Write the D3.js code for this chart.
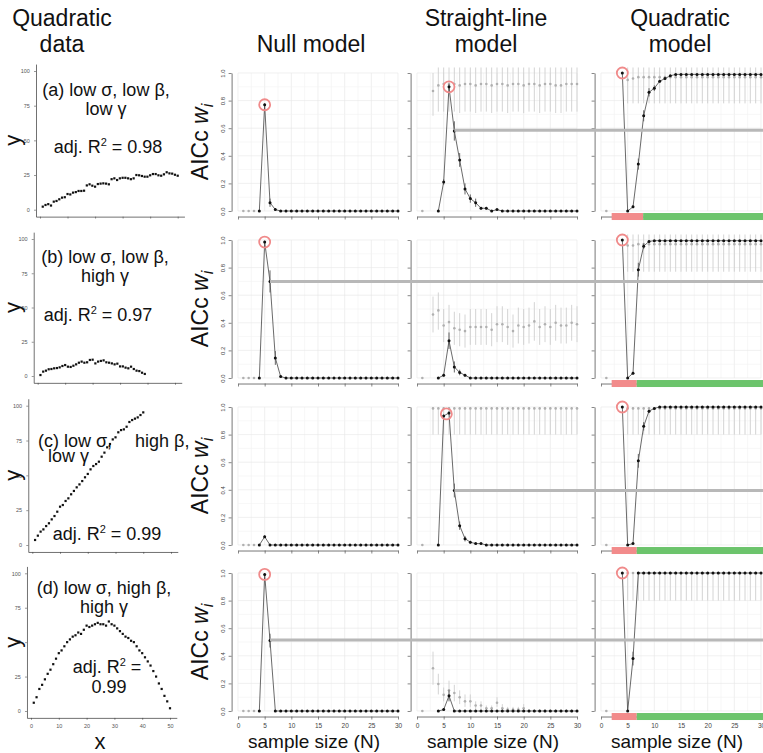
<!DOCTYPE html>
<html><head><meta charset="utf-8">
<script src="https://cdn.jsdelivr.net/npm/d3@7"></script>
<style>body{margin:0;background:#fff} svg text{font-family:"Liberation Sans",Arial,sans-serif}</style>
</head><body><svg id="c" width="763" height="753"></svg>
<script>
const _ = null;
// ---------- data column (quadratic data) ----------
const dataA = [2.2,3.4,4,3,5.8,6.3,7.5,8.7,9,11.3,11,12.3,12.7,13.5,13.5,13.7,17.5,18.3,17.3,16.6,18.5,18.8,19,18.8,18.3,22,22.6,21.4,22.6,23,23,22.6,22,22.6,25,24.8,24.3,23.8,23.8,24.8,25.7,25.7,24.8,24.5,25.5,27,26.2,26,25.2,24.5];
const dataB = [0.7,3.2,3.9,4.9,5.1,5.6,5.8,6.3,7.3,8,6.8,6.6,7.5,8.5,9.7,10.5,9.7,10,11.7,11.9,9.2,10.5,11,11.4,10,9.7,9.2,8.5,9,7,7,6.1,5.6,6.8,5.1,3.9,3.6,2.4,1.5];
const dataC = [3.6,6.7,9.6,11.2,13.6,15.6,18.4,20.8,23.9,27.5,28.7,31.6,33.5,36.4,38.8,41.4,43.5,45.9,48.6,51,54.3,56.7,58.1,59.8,63.4,66.3,70.1,72.5,75.8,77.3,80.9,82.5,83,84.9,88.3,89.7,90.7,91.6,93.3,95.2];
const dataD = [6,10,16,19,23,27,30,34,38,42,44,47,50,52,54,55,57,56,59,62,61,62,63,64,63,63,62,65,63,62,60,58,56,54,53,51,50,47,44,42,39,36,33,29,25,20,16,11,7,2];
const dataTicksX = [0,10,20,30,40,50];
const dataTicksY = [0,25,50,75,100];
// each label piece: [text, row line]
const panelTitles = [
  [["(a) low σ, low β,",0],["low γ",1]],
  [["(b) low σ, low β,",0],["high γ",1]],
  [["(c) low σ,",0],["high β,",0],["low γ",1]],
  [["(d) low σ, high β,",0],["high γ",1]]
];
const r2Labels = [["adj. R","2"," = 0.98"],["adj. R","2"," = 0.97"],["adj. R","2"," = 0.99"],["adj. R","2"," =","0.99"]];
const columnTitles = [["Quadratic","data"],["Null model"],["Straight-line","model"],["Quadratic","model"]];

// ---------- model panels: sample size N = 1..30 ----------
const sampleN = d3.range(1,31);
const nTicks = [0,5,10,15,20,25,30];
const wTicks = [0,0.2,0.4,0.6,0.8,1.0];
// row a
const nullA_black = [_,_,_,0,0.77,0.06,0.01,0,0,0,0,0,0,0,0,0,0,0,0,0,0,0,0,0,0,0,0,0,0,0];
const nullA_bErr  = [_,_,_,0,0.01,0.03,0.01,0,0,0,0,0,0,0,0,0,0,0,0,0,0,0,0,0,0,0,0,0,0,0];
const nullA_gray  = [0,0,0,_,_,_,_,_,_,_,_,_,_,_,_,_,_,_,_,_,_,_,_,_,_,_,_,_,_,_];
const lineA_black = [_,_,_,0,0.21,0.90,0.58,0.37,0.16,0.09,0.06,0.02,0.02,0,0.01,0,0,0,0,0,0,0,0,0,0,0,0,0,0,0];
const lineA_bErr  = [_,_,_,0,0.02,0.02,0.07,0.05,0.04,0.03,0.03,0.01,0.01,0,0,0,0,0,0,0,0,0,0,0,0,0,0,0,0,0];
const lineA_gray  = [0,_,0.87,0.91,0.92,0.92,0.92,0.91,0.92,0.92,0.91,0.92,0.92,0.91,0.92,0.92,0.91,0.92,0.92,0.91,0.92,0.92,0.91,0.92,0.92,0.91,0.91,0.92,0.92,0.92];
const lineA_gLo   = [_,_,0.69,0.72,0.72,0.72,0.72,0.71,0.72,0.72,0.71,0.72,0.72,0.71,0.72,0.72,0.71,0.72,0.72,0.71,0.72,0.72,0.71,0.72,0.72,0.71,0.71,0.72,0.72,0.72];
const lineA_gHi   = [_,_,1.0,1.04,1.04,1.04,1.04,1.04,1.04,1.04,1.04,1.04,1.04,1.04,1.04,1.04,1.04,1.04,1.04,1.04,1.04,1.04,1.04,1.04,1.04,1.04,1.04,1.04,1.04,1.04];
const quadA_black = [_,_,_,1.0,0,0.03,0.34,0.69,0.86,0.89,0.94,0.96,0.98,0.99,0.99,0.99,0.99,0.99,0.99,0.99,0.99,0.99,0.99,0.99,0.99,0.99,0.99,0.99,0.99,0.99];
const quadA_bErr  = [_,_,_,0,0,0.01,0.04,0.04,0.03,0.02,0.01,0.01,0,0,0,0,0,0,0,0,0,0,0,0,0,0,0,0,0,0];
const quadA_gray  = [0,_,_,_,0.95,0.96,0.97,0.97,0.97,0.97,0.97,0.97,0.97,0.97,0.97,0.97,0.97,0.97,0.97,0.97,0.97,0.97,0.97,0.97,0.97,0.97,0.97,0.97,0.97,0.97];
const quadA_gLo   = [_,_,_,_,0.78,0.78,0.78,0.78,0.78,0.78,0.78,0.78,0.78,0.78,0.78,0.78,0.78,0.78,0.78,0.78,0.78,0.78,0.78,0.78,0.78,0.78,0.78,0.78,0.78,0.78];
const quadA_gHi   = [_,_,_,_,1.04,1.04,1.04,1.04,1.04,1.04,1.04,1.04,1.04,1.04,1.04,1.04,1.04,1.04,1.04,1.04,1.04,1.04,1.04,1.04,1.04,1.04,1.04,1.04,1.04,1.04];
// row b
const nullB_black = [_,_,_,0,0.985,0.70,0.145,0.01,0,0,0,0,0,0,0,0,0,0,0,0,0,0,0,0,0,0,0,0,0,0];
const nullB_bErr  = [_,_,_,0,0.01,0.08,0.05,0.01,0,0,0,0,0,0,0,0,0,0,0,0,0,0,0,0,0,0,0,0,0,0];
const nullB_gray  = [0,0,0,_,_,_,_,_,_,_,_,_,_,_,_,_,_,_,_,_,_,_,_,_,_,_,_,_,_,_];
const lineB_black = [_,_,_,0,0.02,0.27,0.08,0.04,0.02,0,0,0,0,0,0,0,0,0,0,0,0,0,0,0,0,0,0,0,0,0];
const lineB_bErr  = [_,_,_,0,0.01,0.06,0.04,0.02,0.01,0,0,0,0,0,0,0,0,0,0,0,0,0,0,0,0,0,0,0,0,0];
const lineB_gray  = [0,_,0.46,0.49,0.38,0.405,0.36,0.35,0.34,0.37,0.37,0.37,0.37,0.35,0.39,0.39,0.37,0.34,0.38,0.37,0.38,0.41,0.37,0.39,0.37,0.40,0.38,0.38,0.40,0.39];
const lineB_gLo   = [_,_,0.33,0.35,0.26,0.28,0.24,0.23,0.22,0.24,0.24,0.24,0.24,0.23,0.26,0.26,0.24,0.22,0.25,0.24,0.25,0.27,0.24,0.26,0.24,0.27,0.25,0.25,0.27,0.26];
const lineB_gHi   = [_,_,0.59,0.62,0.50,0.53,0.48,0.47,0.46,0.50,0.50,0.50,0.50,0.47,0.52,0.52,0.50,0.46,0.51,0.50,0.51,0.55,0.50,0.52,0.50,0.53,0.51,0.51,0.53,0.52];
const quadB_black = [_,_,_,1.0,0,0.035,0.785,0.955,0.99,0.995,0.995,0.995,0.995,0.995,0.995,0.995,0.995,0.995,0.995,0.995,0.995,0.995,0.995,0.995,0.995,0.995,0.995,0.995,0.995,0.995];
const quadB_bErr  = [_,_,_,0,0,0.01,0.05,0.02,0.01,0,0,0,0,0,0,0,0,0,0,0,0,0,0,0,0,0,0,0,0,0];
const quadB_gray  = [0,_,_,_,0.96,0.96,0.97,0.97,0.97,0.97,0.97,0.97,0.97,0.97,0.97,0.97,0.97,0.97,0.97,0.97,0.97,0.97,0.97,0.97,0.97,0.97,0.97,0.97,0.97,0.97];
const quadB_gLo   = [_,_,_,_,0.77,0.77,0.77,0.77,0.77,0.77,0.77,0.77,0.77,0.77,0.77,0.77,0.77,0.77,0.77,0.77,0.77,0.77,0.77,0.77,0.77,0.77,0.77,0.77,0.77,0.77];
const quadB_gHi   = [_,_,_,_,1.04,1.04,1.04,1.04,1.04,1.04,1.04,1.04,1.04,1.04,1.04,1.04,1.04,1.04,1.04,1.04,1.04,1.04,1.04,1.04,1.04,1.04,1.04,1.04,1.04,1.04];
// row c
const nullC_black = [_,_,_,0,0.06,0,0,0,0,0,0,0,0,0,0,0,0,0,0,0,0,0,0,0,0,0,0,0,0,0];
const nullC_bErr  = [_,_,_,0,0.01,0,0,0,0,0,0,0,0,0,0,0,0,0,0,0,0,0,0,0,0,0,0,0,0,0];
const nullC_gray  = [0,0,0,_,_,_,_,_,_,_,_,_,_,_,_,_,_,_,_,_,_,_,_,_,_,_,_,_,_,_];
const lineC_black = [_,_,_,0,0.935,0.957,0.395,0.14,0.046,0.02,0.01,0.01,0,0,0,0,0,0,0,0,0,0,0,0,0,0,0,0,0,0];
const lineC_bErr  = [_,_,_,0,0.01,0.01,0.05,0.03,0.02,0.01,0,0,0,0,0,0,0,0,0,0,0,0,0,0,0,0,0,0,0,0];
const lineC_gray  = [0,_,0.99,0.99,0.99,0.99,0.99,0.99,0.99,0.99,0.99,0.99,0.99,0.99,0.99,0.99,0.99,0.99,0.99,0.99,0.99,0.99,0.99,0.99,0.99,0.99,0.99,0.99,0.99,0.99];
const lineC_gLo   = [_,_,0.8,0.8,0.8,0.8,0.8,0.8,0.8,0.8,0.8,0.8,0.8,0.8,0.8,0.8,0.8,0.8,0.8,0.8,0.8,0.8,0.8,0.8,0.8,0.8,0.8,0.8,0.8,0.8];
const lineC_gHi   = [_,_,1.0,1.0,1.0,1.0,1.0,1.0,1.0,1.0,1.0,1.0,1.0,1.0,1.0,1.0,1.0,1.0,1.0,1.0,1.0,1.0,1.0,1.0,1.0,1.0,1.0,1.0,1.0,1.0];
const quadC_black = [_,_,_,1.0,0,0.01,0.61,0.86,0.97,0.99,1,1,1,1,1,1,1,1,1,1,1,1,1,1,1,1,1,1,1,1];
const quadC_bErr  = [_,_,_,0,0,0,0.05,0.03,0.01,0,0,0,0,0,0,0,0,0,0,0,0,0,0,0,0,0,0,0,0,0];
const quadC_gray  = [0,_,_,_,0.99,0.99,0.99,0.99,0.99,0.99,0.99,0.99,0.99,0.99,0.99,0.99,0.99,0.99,0.99,0.99,0.99,0.99,0.99,0.99,0.99,0.99,0.99,0.99,0.99,0.99];
const quadC_gLo   = [_,_,_,_,0.8,0.8,0.8,0.8,0.8,0.8,0.8,0.8,0.8,0.8,0.8,0.8,0.8,0.8,0.8,0.8,0.8,0.8,0.8,0.8,0.8,0.8,0.8,0.8,0.8,0.8];
const quadC_gHi   = [_,_,_,_,1,1,1,1,1,1,1,1,1,1,1,1,1,1,1,1,1,1,1,1,1,1,1,1,1,1];
// row d
const nullD_black = [_,_,_,0,0.99,0.51,0,0,0,0,0,0,0,0,0,0,0,0,0,0,0,0,0,0,0,0,0,0,0,0];
const nullD_bErr  = [_,_,_,0,0.01,0.05,0,0,0,0,0,0,0,0,0,0,0,0,0,0,0,0,0,0,0,0,0,0,0,0];
const nullD_gray  = [0,0,0,_,_,_,_,_,_,_,_,_,_,_,_,_,_,_,_,_,_,_,_,_,_,_,_,_,_,_];
const lineD_black = [_,_,_,0,0.01,0.11,0,0,0,0,0,0,0,0,0,0,0,0,0,0,0,0,0,0,0,0,0,0,0,0];
const lineD_bErr  = [_,_,_,0,0.01,0.04,0,0,0,0,0,0,0,0,0,0,0,0,0,0,0,0,0,0,0,0,0,0,0,0];
const lineD_gray  = [0,_,0.31,0.196,0.117,0.15,0.13,0.10,0.07,0.07,0.04,0.04,0.02,0.02,0.06,0.02,0.01,0.01,0.01,0.02,0,0,0,0,0,0,0,0,0,0];
const lineD_gLo   = [_,_,0.19,0.12,0.07,0.08,0.07,0.05,0.03,0.03,0.01,0.01,0,0,0.03,0,0,0,0,0,0,0,0,0,0,0,0,0,0,0];
const lineD_gHi   = [_,_,0.43,0.27,0.17,0.22,0.19,0.15,0.12,0.12,0.07,0.07,0.04,0.04,0.10,0.05,0.03,0.03,0.03,0.05,0.01,0.01,0.01,0.01,0.01,0.01,0.01,0.01,0.01,0.01];
const quadD_black = [_,_,_,1.0,0,0.38,1,1,1,1,1,1,1,1,1,1,1,1,1,1,1,1,1,1,1,1,1,1,1,1];
const quadD_bErr  = [_,_,_,0,0,0.05,0,0,0,0,0,0,0,0,0,0,0,0,0,0,0,0,0,0,0,0,0,0,0,0];
const quadD_gray  = [0,_,_,_,1,1,1,1,1,1,1,1,1,1,1,1,1,1,1,1,1,1,1,1,1,1,1,1,1,1];
const quadD_gLo   = [_,_,_,_,0.8,0.8,0.8,0.8,0.8,0.8,0.8,0.8,0.8,0.8,0.8,0.8,0.8,0.8,0.8,0.8,0.8,0.8,0.8,0.8,0.8,0.8,0.8,0.8,0.8,0.8];
const quadD_gHi   = [_,_,_,_,1,1,1,1,1,1,1,1,1,1,1,1,1,1,1,1,1,1,1,1,1,1,1,1,1,1];

// highlighted best points (model index 0=null,1=line,2=quad)
const circleRow   = [0,0,0,1,1,2,2,3,3];
const circleModel = [0,1,2,0,2,1,2,0,2];
const circleN     = [5,6,4,5,4,5.5,4,5,4];
const circleW     = [0.77,0.90,1.0,0.985,1.0,0.95,1.0,0.99,1.0];
// horizontal reference lines: start (row, model, N, w) extend to right edge
const refRow   = [0,1,2,3];
const refModel = [1,0,1,0];
const refN     = [7,6,7,6];
const refW     = [0.585,0.70,0.395,0.515];
// red / green N-range bars in quadratic model panels
const redStart  = [2,2,2,2];
const redEnd    = [7.9,6.7,6.7,6.7];
const greenEnd  = [30.5,30.5,30.5,30.5];

// ---------- build ----------
const svg = d3.select("#c");
const models = [
  [ [nullA_black,nullA_bErr,nullA_gray,null,null], [lineA_black,lineA_bErr,lineA_gray,lineA_gLo,lineA_gHi], [quadA_black,quadA_bErr,quadA_gray,quadA_gLo,quadA_gHi] ],
  [ [nullB_black,nullB_bErr,nullB_gray,null,null], [lineB_black,lineB_bErr,lineB_gray,lineB_gLo,lineB_gHi], [quadB_black,quadB_bErr,quadB_gray,quadB_gLo,quadB_gHi] ],
  [ [nullC_black,nullC_bErr,nullC_gray,null,null], [lineC_black,lineC_bErr,lineC_gray,lineC_gLo,lineC_gHi], [quadC_black,quadC_bErr,quadC_gray,quadC_gLo,quadC_gHi] ],
  [ [nullD_black,nullD_bErr,nullD_gray,null,null], [lineD_black,lineD_bErr,lineD_gray,lineD_gLo,lineD_gHi], [quadD_black,quadD_bErr,quadD_gray,quadD_gLo,quadD_gHi] ]
];
const datasets = [dataA,dataB,dataC,dataD];

// layout
const rowTop = [73, 240, 407, 573];
const plotH = 138;
const colX0 = [238, 417, 601];
const plotW = 160;
const dataLayout = [ {x0:40,x50:177.7,y0:209.7,y100:71}, {x0:37.7,x50:175,y0:376,y100:239},
                     {x0:32.3,x50:171,y0:545,y100:405.7}, {x0:31,x50:170,y0:711,y100:573.3} ];

// column titles
const titleX = [62, 311, 486, 680];
columnTitles.forEach((lines,i)=>{
  const t = svg.append("text").attr("x",titleX[i]).attr("text-anchor","middle").attr("font-size",23).attr("fill","#111");
  const startY = lines.length===2 ? 26 : 52;
  lines.forEach((s,j)=> t.append("tspan").attr("x",titleX[i]).attr("y", startY + j*26).text(s));
});

function xScaleFor(r,m){ return d3.scaleLinear().domain([0,30]).range([colX0[m], colX0[m]+plotW]); }
function yScaleFor(r){ return d3.scaleLinear().domain([0,1]).range([rowTop[r]+plotH, rowTop[r]]); }

// annotation placement (layout only)
const titleLineY = [[96,115],[263,282],[447,462],[594,613]];
const titlePieceX = [[106,106],[105,105],[38,135,48],[104,104]];
const titlePieceAnchor = [["middle","middle"],["middle","middle"],["start","start","start"],["middle","middle"]];
const r2Y = [[153],[321],[540],[673,693]];
const r2X = [108,98,107,107];

for(let r=0;r<4;r++){
  // ----- data panel -----
  const L = dataLayout[r];
  const dx = d3.scaleLinear().domain([0,50]).range([L.x0,L.x50]);
  const dy = d3.scaleLinear().domain([0,100]).range([L.y0,L.y100]);
  const g0 = svg.append("g");
  const axX = d3.scaleLinear().domain([-1.45,52.45]).range([dx(-1.45),dx(52.45)]);
  const axY = d3.scaleLinear().domain([-5,105]).range([dy(-5),dy(105)]);
  const gx = g0.append("g").attr("transform",`translate(0,${dy(-5)})`)
    .call(d3.axisBottom(axX).tickValues(dataTicksX).tickSize(2).tickSizeOuter(0).tickFormat(r===3?d3.format("d"):""));
  const gy = g0.append("g").attr("transform",`translate(${dx(-1.45)},0)`)
    .call(d3.axisLeft(axY).tickValues(dataTicksY).tickSize(2).tickSizeOuter(0));
  [gx,gy].forEach(a=>{ a.select(".domain").attr("stroke","#333").attr("stroke-width",0.7);
    a.selectAll(".tick line").attr("stroke","#333").attr("stroke-width",0.5);
    a.selectAll("text").attr("font-size",5.5).attr("fill","#555"); });
  gx.selectAll("text").attr("dy","0.9em");
  gy.selectAll("text").attr("dx","-0.2em");
  g0.selectAll("rect.pt").data(datasets[r]).join("rect")
    .attr("x",(d,i)=>dx(i+1)-1.1).attr("y",d=>dy(d)-1.1).attr("width",2.2).attr("height",2.2).attr("fill","#111");
  // annotations
  panelTitles[r].forEach(([s,line],j)=>{
    g0.append("text").attr("x",titlePieceX[r][j]).attr("y",titleLineY[r][line]).attr("text-anchor",titlePieceAnchor[r][j])
      .attr("font-size",18).attr("fill","#111").text(s);
  });
  const parts = r2Labels[r];
  const t1 = g0.append("text").attr("x",r2X[r]).attr("y",r2Y[r][0]).attr("text-anchor","middle").attr("font-size",18).attr("fill","#111");
  t1.append("tspan").text(parts[0]);
  t1.append("tspan").attr("font-size",11).attr("dy",-7).text(parts[1]);
  t1.append("tspan").attr("dy",7).text(parts[2]);
  if(parts.length>3){
    g0.append("text").attr("x",r2X[r]+2).attr("y",r2Y[r][1]).attr("text-anchor","middle").attr("font-size",18).attr("fill","#111").text(parts[3]);
  }
  // y label
  g0.append("text").attr("transform",`translate(20,${(L.y0+L.y100)/2}) rotate(-90)`).attr("text-anchor","middle")
    .attr("font-size",22).attr("fill","#111").text("y");

  // ----- model panels -----
  const y = yScaleFor(r);
  for(let m=0;m<3;m++){
    const x = xScaleFor(r,m);
    const [blk,bErr,gry,gLo,gHi] = models[r][m];
    const g = svg.append("g");
    // grid
    const gridX = d3.range(0,30.01,2.5), gridY = d3.range(0,1.001,0.1);
    g.selectAll("line.gx").data(gridX).join("line").attr("x1",d=>x(d)).attr("x2",d=>x(d)).attr("y1",y(0)).attr("y2",y(1))
      .attr("stroke",(d)=> d%5===0?"#e6e6e6":"#f1f1f1").attr("stroke-width",0.6);
    g.selectAll("line.gy").data(gridY).join("line").attr("y1",d=>y(d)).attr("y2",d=>y(d)).attr("x1",x(0)).attr("x2",x(30))
      .attr("stroke",(d,i)=> i%2===0?"#e6e6e6":"#f1f1f1").attr("stroke-width",0.6);
    // axes
    const ay = g.append("g").attr("transform",`translate(${x(-1.2)},0)`)
      .call(d3.axisLeft(y).tickValues(wTicks).tickSize(3).tickSizeOuter(0).tickFormat(m===0?d3.format(".1f"):""));
    ay.selectAll("text").attr("transform","rotate(-90)").attr("text-anchor","middle").attr("x",0).attr("y",-7).attr("dy","0");
    const ax = g.append("g").attr("transform",`translate(0,${y(-0.04)})`)
      .call(d3.axisBottom(x).tickValues(nTicks).tickSize(3).tickSizeOuter(0).tickFormat(r===3?d3.format("d"):""));
    [ax,ay].forEach(a=>{ a.select(".domain").attr("stroke","#555").attr("stroke-width",0.8);
      a.selectAll(".tick line").attr("stroke","#555").attr("stroke-width",0.7);
      a.selectAll("text").attr("font-size",6).attr("fill","#444"); });
    ax.selectAll("text").attr("dy","0.9em").attr("font-size",6.5);
    // red / green bars
    if(m===2){
      g.append("rect").attr("x",x(redStart[r])).attr("width",x(redEnd[r])-x(redStart[r])).attr("y",y(-0.04)-3.5).attr("height",7).attr("fill","#f28b8b");
      g.append("rect").attr("x",x(redEnd[r])).attr("width",x(greenEnd[r])-x(redEnd[r])).attr("y",y(-0.04)-3.5).attr("height",7).attr("fill","#6cc46c");
    }
    const idx = d3.range(30);
    // gray error bars
    if(gLo){
      g.selectAll("line.ge").data(idx.filter(i=>gLo[i]!=null)).join("line")
        .attr("x1",i=>x(sampleN[i])).attr("x2",i=>x(sampleN[i])).attr("y1",i=>y(gLo[i])).attr("y2",i=>y(gHi[i]))
        .attr("stroke","#cfcfcf").attr("stroke-width",0.9);
    }
    g.selectAll("circle.gp").data(idx.filter(i=>gry[i]!=null)).join("circle")
      .attr("cx",i=>x(sampleN[i])).attr("cy",i=>y(gry[i])).attr("r",1.3).attr("fill","#b0b0b0");
    // black line
    const pts = idx.filter(i=>blk[i]!=null);
    g.append("path").datum(pts).attr("fill","none").attr("stroke","#444").attr("stroke-width",0.8)
      .attr("d", d3.line().x(i=>x(sampleN[i])).y(i=>y(blk[i])));
    g.selectAll("line.be").data(pts.filter(i=>bErr[i]>0)).join("line")
      .attr("x1",i=>x(sampleN[i])).attr("x2",i=>x(sampleN[i])).attr("y1",i=>y(blk[i]-bErr[i])).attr("y2",i=>y(blk[i]+bErr[i]))
      .attr("stroke","#555").attr("stroke-width",0.9);
    g.selectAll("circle.bp").data(pts).join("circle")
      .attr("cx",i=>x(sampleN[i])).attr("cy",i=>y(blk[i])).attr("r",1.5).attr("fill","#111");
  }
  // AICc label
  const lab = svg.append("text").attr("transform",`translate(208,${y(0.5)}) rotate(-90)`).attr("text-anchor","middle")
    .attr("font-size",23).attr("fill","#111");
  lab.append("tspan").text("AICc ");
  lab.append("tspan").attr("font-style","italic").text("w");
  lab.append("tspan").attr("font-style","italic").attr("font-size",16).attr("dy",5).text("i");
}
// highlighted circles
circleRow.forEach((r,k)=>{
  const x = xScaleFor(r,circleModel[k]), y = yScaleFor(r);
  svg.append("circle").attr("cx",x(circleN[k])).attr("cy",y(circleW[k])).attr("r",5.5)
    .attr("fill","none").attr("stroke","#f08a8a").attr("stroke-width",1.8);
});
// reference lines
refRow.forEach((r,k)=>{
  const x = xScaleFor(r,refModel[k]), y = yScaleFor(r);
  svg.append("line").attr("x1",x(refN[k])).attr("x2",763).attr("y1",y(refW[k])).attr("y2",y(refW[k]))
    .attr("stroke","#b8b8b8").attr("stroke-width",3);
});
// bottom labels
svg.append("text").attr("x",100).attr("y",749).attr("text-anchor","middle").attr("font-size",22).attr("fill","#111").text("x");
colX0.forEach(x0=>{
  svg.append("text").attr("x",x0+plotW/2-4).attr("y",748).attr("text-anchor","middle").attr("font-size",19).attr("fill","#111").text("sample size (N)");
});
</script></body></html>
